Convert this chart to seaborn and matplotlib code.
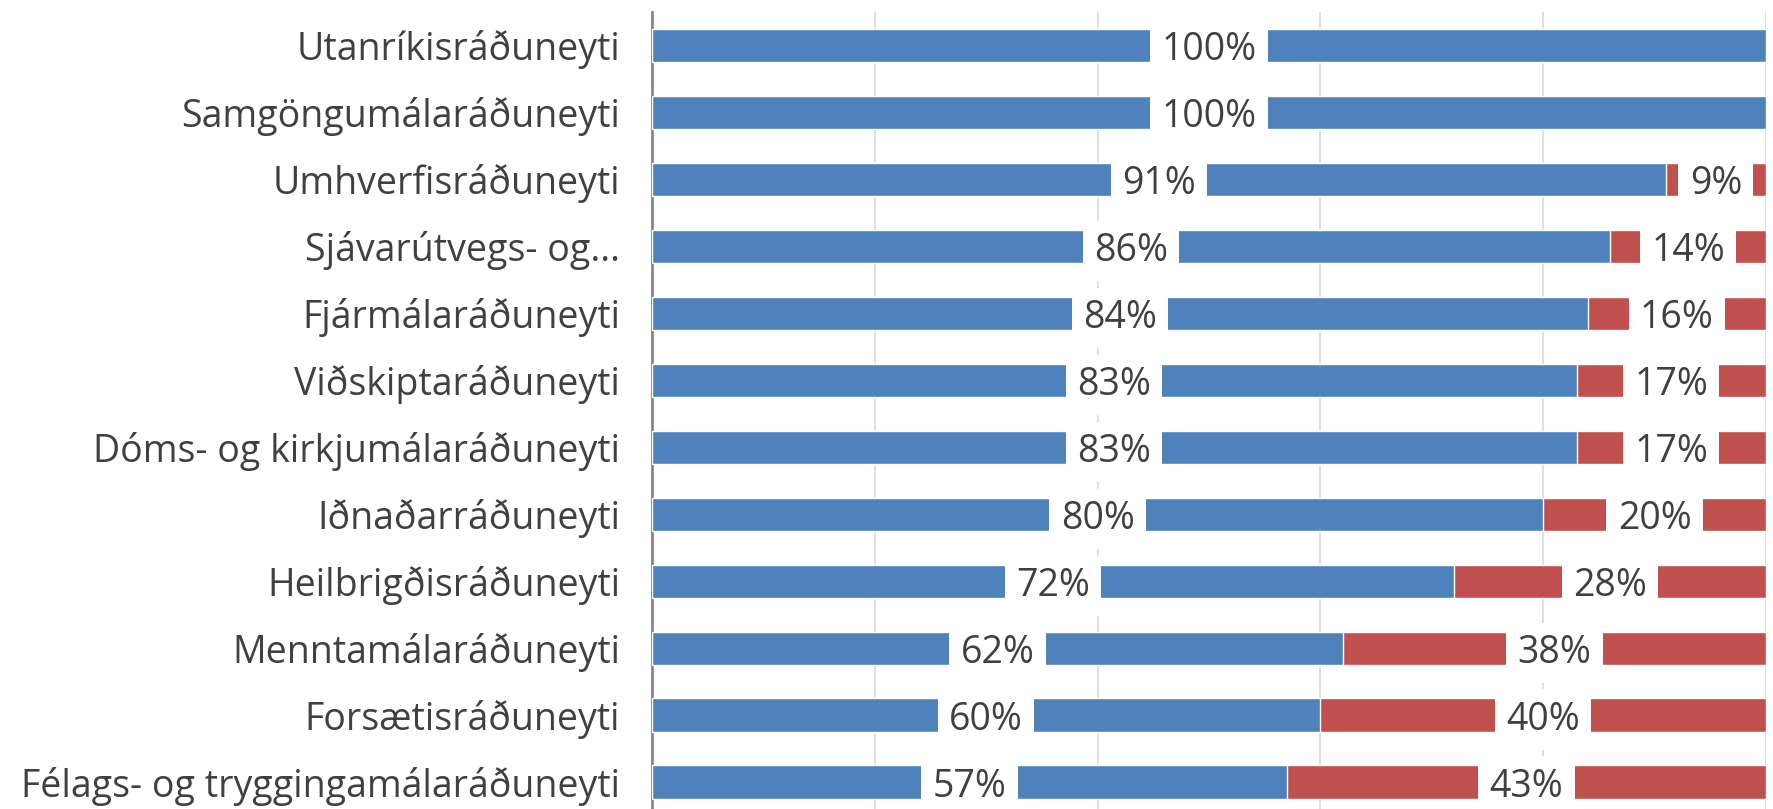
import pandas as pd
import matplotlib
matplotlib.use("Agg")
import matplotlib.pyplot as plt
import seaborn as sns

ministries = [
    "Utanríkisráðuneyti",
    "Samgöngumálaráðuneyti",
    "Umhverfisráðuneyti",
    "Sjávarútvegs- og...",
    "Fjármálaráðuneyti",
    "Viðskiptaráðuneyti",
    "Dóms- og kirkjumálaráðuneyti",
    "Iðnaðarráðuneyti",
    "Heilbrigðisráðuneyti",
    "Menntamálaráðuneyti",
    "Forsætisráðuneyti",
    "Félags- og tryggingamálaráðuneyti",
]
blue_pct = [100, 100, 91, 86, 84, 83, 83, 80, 72, 62, 60, 57]
red_pct = [0, 0, 9, 14, 16, 17, 17, 20, 28, 38, 40, 43]

df = pd.DataFrame({"ministry": ministries, "blue": blue_pct, "red": red_pct})
df["total"] = df["blue"] + df["red"]

sns.set_style("white")
plt.rcParams["font.family"] = ["Open Sans", "DejaVu Sans"]

fig = plt.figure(figsize=(17.73, 8.09), dpi=100)
ax = fig.add_axes([652 / 1773, 0.0, (1766 - 652) / 1773, 1 - 12 / 809])

BLUE = "#4F81BD"
RED = "#C0504D"
FS = 27

# red drawn as the full stack, blue on top of it
sns.barplot(data=df, y="ministry", x="total", color=RED, orient="h",
            width=0.5, saturation=1, ax=ax, zorder=2)
sns.barplot(data=df, y="ministry", x="blue", color=BLUE, orient="h",
            width=0.5, saturation=1, ax=ax, zorder=3)

ax.set_xlim(0, 100)
ax.set_ylim(11.4, -0.5)

for x in [20, 40, 60, 80, 100]:
    ax.axvline(x, color="#D9D9D9", lw=1.2, zorder=1)

box = dict(facecolor="white", edgecolor="none", pad=8)
for i, (b, r) in enumerate(zip(blue_pct, red_pct)):
    ax.text(b / 2, i, f"{b}%", ha="center", va="center_baseline", fontsize=FS,
            color="#404040", bbox=box, zorder=5)
    if r > 0:
        ax.text(b + r / 2, i, f"{r}%", ha="center", va="center_baseline",
                fontsize=FS, color="#404040", bbox=box, zorder=5)

ax.set_xlabel("")
ax.set_ylabel("")
ax.set_xticks([])
ax.tick_params(axis="y", length=0, pad=23, labelsize=FS, labelcolor="#404040")
for lbl in ax.get_yticklabels():
    lbl.set_verticalalignment("center_baseline")
for s in ["top", "right", "bottom"]:
    ax.spines[s].set_visible(False)
ax.spines["left"].set_color("#868686")
ax.spines["left"].set_linewidth(2)

fig.savefig("out.png", dpi=100)
